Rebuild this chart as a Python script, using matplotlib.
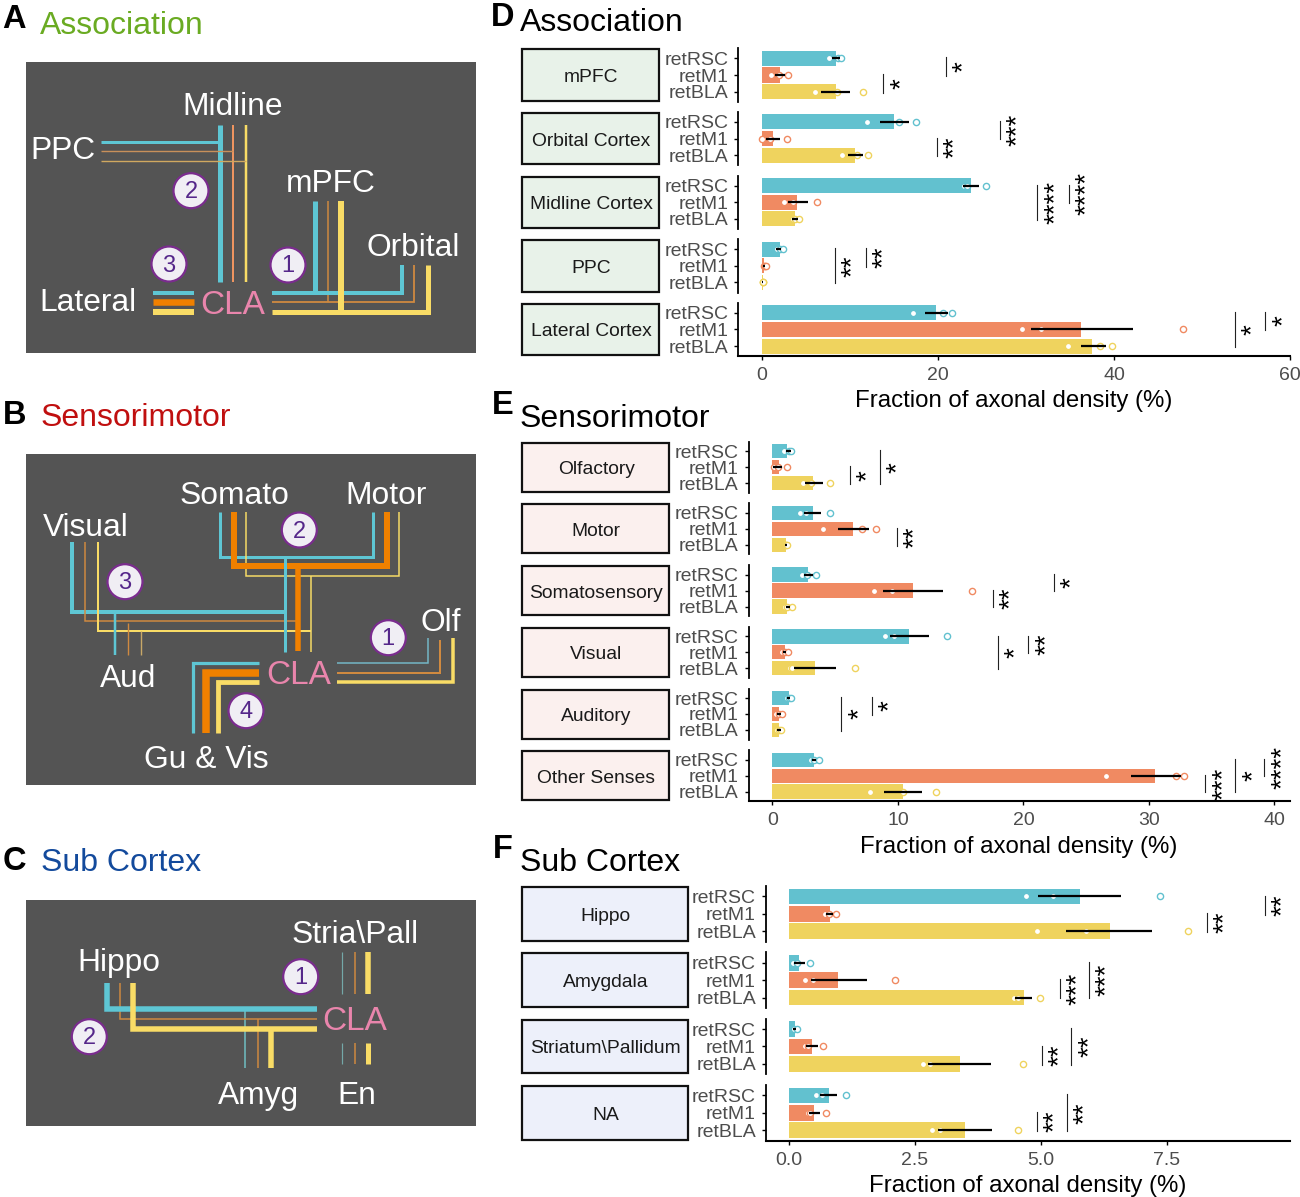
import matplotlib
matplotlib.use('Agg')
import matplotlib.pyplot as plt
from matplotlib.patches import Rectangle, Circle

plt.rcParams['font.family'] = ['Liberation Sans', 'DejaVu Sans']

groups = ['retRSC', 'retM1', 'retBLA']
group_colors = ['#62C1CF', '#F08A62', '#EFD35E']
axis_label = 'Fraction of axonal density (%)'

# panel D
d_names = ['mPFC', 'Orbital Cortex', 'Midline Cortex', 'PPC', 'Lateral Cortex']
d_means = [[8.4, 2.0, 8.4], [15.0, 1.2, 10.6], [23.7, 4.0, 3.8], [2.0, 0.2, 0.1], [19.8, 36.2, 37.5]]
d_low = [[8.0, 1.45, 6.7], [13.4, 0.5, 9.8], [22.85, 3.0, 3.4], [1.6, 0.1, 0.05], [18.5, 30.6, 36.2]]
d_high = [[8.9, 2.6, 10.0], [16.7, 2.0, 11.45], [24.65, 5.2, 4.1], [2.2, 0.3, 0.15], [21.1, 42.2, 39.1]]
d_points = [
    [[7.6, 8.6, 9.0], [1.0, 1.9, 3.0], [6.0, 8.5, 11.45]],
    [[11.9, 15.6, 17.5], [0.05, 0.9, 2.8], [9.1, 10.8, 12.0]],
    [[23.0, 23.3, 25.4], [2.5, 3.5, 6.2], [3.5, 3.7, 4.2]],
    [[1.7, 2.1, 2.4], [0.2, 0.3, 0.4], [0.1, 0.1, 0.15]],
    [[17.2, 20.6, 21.6], [29.6, 31.7, 47.8], [34.8, 38.4, 39.8]],
]
d_sig = [
    (0, 20.9, 1, 2, 1), (0, 13.8, 2, 3, 1),
    (1, 27.0, 1, 2, 3), (1, 19.9, 2, 3, 2),
    (2, 34.9, 1, 2, 4), (2, 31.3, 1, 3, 4),
    (3, 11.8, 1, 2, 2), (3, 8.3, 1, 3, 2),
    (4, 57.2, 1, 2, 1), (4, 53.7, 1, 3, 1),
]
d_ticks = [0, 20, 40, 60]

# panel E
e_names = ['Olfactory', 'Motor', 'Somatosensory', 'Visual', 'Auditory', 'Other Senses']
e_means = [[1.2, 0.5, 3.25], [3.2, 6.45, 1.1], [2.85, 11.2, 1.2], [10.9, 1.0, 3.4], [1.3, 0.55, 0.55], [3.3, 30.5, 10.4]]
e_low = [[1.1, 0.05, 2.6], [2.55, 5.2, 1.0], [2.5, 8.85, 1.05], [9.35, 0.85, 1.7], [1.2, 0.35, 0.4], [3.15, 28.6, 8.9]]
e_high = [[1.45, 0.8, 4.0], [3.9, 7.7, 1.15], [3.2, 13.6, 1.4], [12.45, 1.1, 5.05], [1.4, 0.7, 0.65], [3.5, 32.55, 11.9]]
e_points = [
    [[0.9, 1.3, 1.45], [0.1, 0.45, 1.2], [2.45, 3.1, 4.6]],
    [[2.2, 2.7, 4.55], [4.0, 7.1, 8.25], [1.0, 1.05, 1.15]],
    [[2.35, 2.75, 3.45], [8.1, 9.5, 15.9], [1.0, 1.2, 1.55]],
    [[9.0, 9.7, 13.95], [0.75, 1.0, 1.25], [1.4, 1.6, 6.6]],
    [[1.2, 1.3, 1.45], [0.3, 0.5, 0.8], [0.35, 0.5, 0.7]],
    [[3.1, 3.35, 3.7], [26.6, 32.15, 32.8], [7.8, 10.4, 13.0]],
]
e_sig = [
    (0, 8.6, 1, 3, 1), (0, 6.2, 2, 3, 1),
    (1, 9.9, 2, 3, 2),
    (2, 22.4, 1, 2, 1), (2, 17.55, 2, 3, 2),
    (3, 20.4, 1, 2, 2), (3, 18.0, 1, 3, 1),
    (4, 7.9, 1, 2, 1), (4, 5.5, 1, 3, 1),
    (5, 39.2, 1, 2, 4), (5, 36.9, 1, 3, 1), (5, 34.5, 2, 3, 3),
]
e_ticks = [0, 10, 20, 30, 40]

# panel F
f_names = ['Hippo', 'Amygdala', 'Striatum\\Pallidum', 'NA']
f_means = [[5.78, 0.8, 6.37], [0.2, 0.97, 4.66], [0.11, 0.46, 3.39], [0.78, 0.5, 3.5]]
f_low = [[4.95, 0.72, 5.5], [0.1, 0.43, 4.49], [0.08, 0.34, 2.76], [0.61, 0.39, 2.96]]
f_high = [[6.59, 0.87, 7.22], [0.31, 1.55, 4.82], [0.14, 0.57, 4.01], [0.95, 0.62, 4.03]]
f_points = [
    [[4.7, 5.25, 7.37], [0.71, 0.79, 0.92], [4.93, 5.9, 7.92]],
    [[0.08, 0.15, 0.42], [0.32, 0.48, 2.1], [4.46, 4.55, 4.98]],
    [[0.07, 0.1, 0.15], [0.32, 0.38, 0.67], [2.65, 2.8, 4.64]],
    [[0.53, 0.65, 1.12], [0.37, 0.42, 0.73], [2.83, 3.0, 4.55]],
]
f_sig = [
    (0, 9.46, 1, 2, 2), (0, 8.31, 2, 3, 2),
    (1, 5.95, 1, 3, 3), (1, 5.38, 2, 3, 3),
    (2, 5.61, 1, 3, 2), (2, 5.03, 2, 3, 2),
    (3, 5.52, 1, 3, 2), (3, 4.93, 2, 3, 2),
]
f_ticks = [0.0, 2.5, 5.0, 7.5]

W, H = 1300, 1197
fig = plt.figure(figsize=(W / 100, H / 100), dpi=100)

# whole-figure axes in pixels, for the schematics, strips and titles
bg = fig.add_axes([0, 0, 1, 1])
bg.set_xlim(0, W)
bg.set_ylim(H, 0)
bg.axis('off')

CYAN = '#5EC6D4'
ORANGE = '#F08000'
THIN_OR = '#D08A40'
YELLOW = '#F9DC66'
PINK = '#E985AC'


def wire(pts, color, w):
    xs = [p[0] for p in pts]
    ys = [p[1] for p in pts]
    bg.plot(xs, ys, color=color, lw=w * 0.72, solid_capstyle='butt', solid_joinstyle='miter')


def label(x, y, s, size=22.9, color='white'):
    bg.text(x, y + 3, s, color=color, fontsize=size, ha='center', va='center')


def badge(x, y, s):
    bg.add_patch(Circle((x, y), 17.5, fc='#F0EEF4', ec='#7A2C8E', lw=1.6, zorder=5))
    bg.text(x, y + 1.5, s, color='#55278A', fontsize=17, ha='center', va='center', zorder=6)


def dark_box(y0, y1):
    bg.add_patch(Rectangle((25.7, y0), 450, y1 - y0, fc='#545454', ec='none', zorder=0))


def heading(x_letter, y_letter, letter, x, y, s, color='black'):
    bg.text(x_letter, y_letter + 2, letter, fontsize=23.5, fontweight='bold', ha='center', va='center')
    bg.text(x, y + 3, s, fontsize=23, color=color, ha='left', va='center')


# A
heading(14, 18, 'A', 40, 23, 'Association', '#6AAB22')
dark_box(62.3, 353.3)
wire([(220, 125), (220, 281.7)], CYAN, 5)
wire([(232.7, 125), (232.7, 281.7)], '#EE9460', 2)
wire([(245.7, 125), (245.7, 281.7)], YELLOW, 2.5)
wire([(100.7, 141.7), (220, 141.7)], CYAN, 3)
wire([(100.7, 151), (233, 151)], '#C8905A', 1.4)
wire([(100.7, 161), (245.7, 161)], '#D0A860', 1.4)
wire([(315, 201), (315, 292.7)], CYAN, 5)
wire([(328, 201), (328, 301.7)], THIN_OR, 1.5)
wire([(271.7, 292.7), (401.7, 292.7), (401.7, 265)], CYAN, 4)
wire([(271.7, 302), (414.3, 302), (414.3, 265)], THIN_OR, 1.8)
wire([(271.7, 312), (427.7, 312), (427.7, 265)], YELLOW, 5)
wire([(341, 201), (341, 311.7)], YELLOW, 6)
wire([(153, 292.7), (193.7, 292.7)], CYAN, 4)
wire([(153, 302), (193.7, 302)], ORANGE, 6.5)
wire([(153, 312), (193.7, 312)], YELLOW, 6)
label(233, 104, 'Midline')
label(63, 148, 'PPC')
label(331, 181, 'mPFC')
label(413, 245, 'Orbital')
label(88, 300, 'Lateral')
label(233, 302, 'CLA', 24, PINK)
badge(191, 190.7, '2')
badge(169, 264, '3')
badge(288, 265, '1')

# B
heading(15, 414, 'B', 41, 415, 'Sensorimotor', '#C00F0F')
dark_box(454.3, 785.3)
wire([(220.3, 512.3), (220.3, 556.7), (373.3, 556.7), (373.3, 512.3)], CYAN, 3)
wire([(246, 512.3), (246, 575.7), (399, 575.7), (399, 512.3)], YELLOW, 1.5)
wire([(233.7, 512.3), (233.7, 565.7), (386.7, 565.7), (386.7, 512.3)], ORANGE, 6)
wire([(72, 542.3), (72, 611.7), (285, 611.7)], CYAN, 4)
wire([(85, 542.3), (85, 621), (298, 621)], THIN_OR, 1.5)
wire([(98.3, 542.3), (98.3, 630.7), (310.7, 630.7)], YELLOW, 2)
wire([(285, 556.7), (285, 651.7)], CYAN, 3)
wire([(298.3, 565.7), (298.3, 650.7)], ORANGE, 5.5)
wire([(310.7, 575.7), (310.7, 651.7)], YELLOW, 1.5)
wire([(115, 611.7), (115, 655)], CYAN, 2.5)
wire([(127.7, 623), (127.7, 655)], THIN_OR, 1.4)
wire([(140.7, 630.7), (140.7, 655)], '#C8A868', 1.4)
wire([(336.7, 662.7), (427.7, 662.7), (427.7, 638.3)], '#74B8C8', 1.5)
wire([(336.7, 672.7), (440, 672.7), (440, 640)], THIN_OR, 2)
wire([(336.7, 682.3), (453.3, 682.3), (453.3, 638.3)], YELLOW, 3.5)
wire([(258.7, 662.7), (193.3, 662.7), (193.3, 732.7)], CYAN, 3.2)
wire([(258.7, 672.7), (205.7, 672.7), (205.7, 732.7)], ORANGE, 7.5)
wire([(258.7, 682.3), (218.3, 682.3), (218.3, 732.7)], YELLOW, 4.8)
label(234, 492.7, 'Somato')
label(385.7, 492.7, 'Motor')
label(86, 525, 'Visual')
label(127.7, 676, 'Aud')
label(298.3, 672.7, 'CLA', 24, PINK)
label(441, 620, 'Olf')
label(206.7, 756.7, 'Gu & Vis')
badge(299.3, 530, '2')
badge(125, 581.7, '3')
badge(388.3, 637.7, '1')
badge(246, 710.7, '4')

# C
heading(14, 859, 'C', 41, 860, 'Sub Cortex', '#134A9C')
dark_box(899.7, 1126.3)
wire([(245.3, 1009), (245.3, 1068.3)], '#70C0C4', 1.5)
wire([(257.7, 1019), (257.7, 1068.3)], THIN_OR, 1.5)
wire([(271, 1028.7), (271, 1068.3)], YELLOW, 5.5)
wire([(120, 983.3), (120, 1019), (316.7, 1019)], THIN_OR, 1.5)
wire([(107.3, 983.3), (107.3, 1009), (316.7, 1009)], CYAN, 5.5)
wire([(133, 983.3), (133, 1028.7), (316.7, 1028.7)], YELLOW, 5.5)
wire([(342.3, 952.3), (342.3, 994)], '#74A8A8', 1.2)
wire([(355, 952.3), (355, 994)], THIN_OR, 1.5)
wire([(368, 952.3), (368, 994)], YELLOW, 5.5)
wire([(342.3, 1042.7), (342.3, 1064.3)], '#74A8A8', 1.2)
wire([(355, 1042.7), (355, 1064.3)], THIN_OR, 1.5)
wire([(368, 1042.7), (368, 1064.3)], YELLOW, 5)
label(355, 931.7, 'Stria\\Pall')
label(119.3, 960, 'Hippo')
label(355, 1018.3, 'CLA', 24, PINK)
label(258.3, 1092.7, 'Amyg')
label(356.7, 1092.7, 'En')
badge(300.7, 976.7, '1')
badge(89.3, 1036.7, '2')

# D, E, F titles
heading(503, 15, 'D', 520, 20, 'Association')
heading(503, 404, 'E', 520, 416, 'Sensorimotor')
heading(503, 848, 'F', 520, 860, 'Sub Cortex')


def facet_panel(names, means, low, high, points, sig, ticks, tick_fmt, top, step, height,
                strip_right, spine_x, x0, px_per_unit, xlabel_x, xlabel_y, strip_fill):
    xmin = (spine_x - x0) / px_per_unit
    xmax = (1290 - x0) / px_per_unit
    panel_axes = []
    for i, name in enumerate(names):
        y0 = top + i * step
        bg.add_patch(Rectangle((522.4, y0 + 1), strip_right - 523.4, height - 2, fc=strip_fill, ec='#111111', lw=1.6))
        bg.text((522 + strip_right) / 2, y0 + height / 2 + 2.5, name, fontsize=13.9, color='#1A1A1A', ha='center', va='center')

        ax = fig.add_axes([spine_x / W, 1 - (y0 + height) / H, (1290 - spine_x) / W, height / H])
        ax.patch.set_alpha(0)
        ax.barh([1, 2, 3], means[i], height=0.9, color=group_colors, zorder=1)
        for j in range(3):
            ax.scatter(points[i][j], [j + 1] * 3, s=20, facecolor='white', edgecolor=group_colors[j],
                       lw=1, zorder=2, clip_on=False)
            ax.plot([low[i][j], high[i][j]], [j + 1, j + 1], color='black', lw=1.6, zorder=3,
                    solid_capstyle='butt')
        ax.set_xlim(xmin, xmax)
        ax.set_ylim(3.6, 0.4)
        ax.set_yticks([1, 2, 3])
        ax.set_yticklabels(groups, fontsize=14, color='#4D4D4D')
        ax.tick_params(axis='y', length=3, width=1, pad=4)
        ax.spines[['top', 'right']].set_visible(False)
        ax.spines['left'].set_linewidth(1.3)
        if i == len(names) - 1:
            ax.spines['bottom'].set_linewidth(1.5)
            ax.set_xticks(ticks)
            ax.set_xticklabels([tick_fmt.format(t) for t in ticks], fontsize=14, color='#4D4D4D')
            ax.tick_params(axis='x', length=3, width=1, pad=5)
        else:
            ax.spines['bottom'].set_visible(False)
            ax.set_xticks([])
        panel_axes.append(ax)

    for f, x, a, b, n in sig:
        ax = panel_axes[f]
        ax.plot([x, x], [a - 0.05, b + 0.05], color='#222222', lw=0.8, clip_on=False, zorder=4)
        ax.annotate('*' * n, xy=(x, (a + b) / 2), xytext=(3.5, 0), textcoords='offset points',
                    rotation=90, ha='left', va='center', fontsize=20, color='black',
                    annotation_clip=False, zorder=5)

    bg.text(xlabel_x, xlabel_y + 3, axis_label, fontsize=17.3, color='black', ha='center', va='center')


facet_panel(d_names, d_means, d_low, d_high, d_points, d_sig, d_ticks, '{:d}',
            48.3, 63.6, 53.4, 660, 738, 762, 8.8, 1014, 398, '#E8F2E9')
facet_panel(e_names, e_means, e_low, e_high, e_points, e_sig, e_ticks, '{:d}',
            441.7, 61.7, 51, 670.4, 748.5, 772.4, 12.55, 1019, 844, '#FBF0EE')
facet_panel(f_names, f_means, f_low, f_high, f_points, f_sig, f_ticks, '{:.1f}',
            886, 66.3, 55.7, 688.8, 765.8, 789.3, 50.3, 1028, 1183, '#EDF0FA')

fig.savefig('out.png', dpi=100)
